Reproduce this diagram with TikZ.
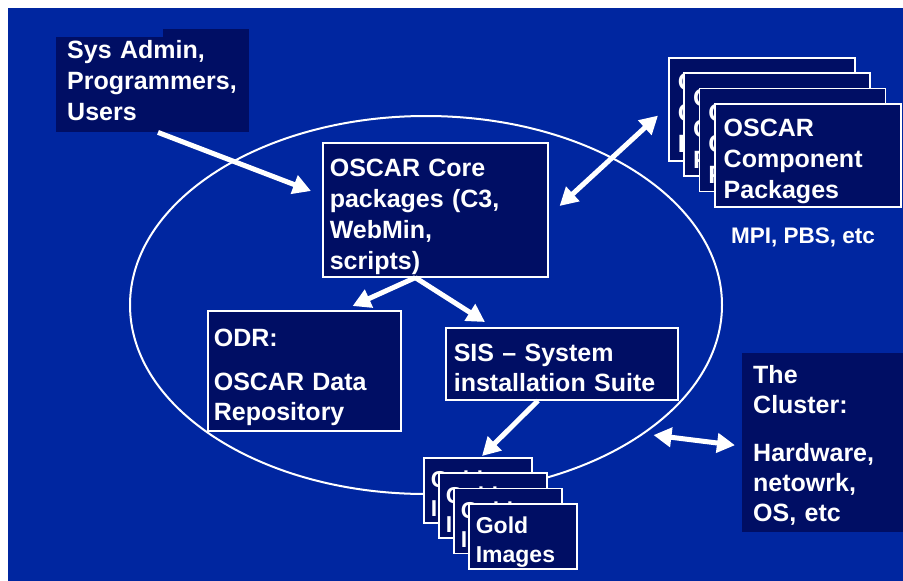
\documentclass[tikz,border=0pt]{standalone}
\usepackage{fontspec}
\setmainfont{Liberation Sans}
\usetikzlibrary{arrows.meta,shapes.geometric}
\hyphenpenalty=10000
\hbadness=10000
\hfuzz=100pt
\definecolor{oscarblue}{RGB}{0,38,160}
\definecolor{oscardark}{RGB}{0,14,100}
\tikzset{
  panel/.style={fill=oscardark, text=white, anchor=north west, inner ysep=0pt,
    align=left, font=\fontsize{25}{31}\selectfont\bfseries},
  framed/.style={panel, draw=white, line width=1.6pt},
  bigarrow/.style={draw=white, line width=5pt, -{Triangle[length=18pt,width=19pt]}},
  twoway/.style={bigarrow, {Triangle[length=18pt,width=19pt]}-{Triangle[length=18pt,width=19pt]}},
}
\begin{document}
\begin{tikzpicture}[x=1pt,y=-1pt]
    %% background
    \useasboundingbox (0,0) rectangle (903,581);
    \fill[white] (0,0) rectangle (903,581);
    \fill[oscarblue] (8,8) rectangle (903,581);
    %% the big ellipse
    \node[draw=white, line width=2pt, ellipse, inner sep=0pt, minimum width=592, minimum height=378] (orbit) at (426,305) {};
    %% users
    \fill[oscardark] (163,29) rectangle (249,37);
    \node[panel, inner xsep=11pt, text width=171pt, text height=21pt, text depth=74pt] (sys) at (56,37) {Sys Admin,\\Programmers,\\Users};
    %% core packages
    \node[framed, inner xsep=7pt, text width=211pt, text height=34pt, text depth=100pt] (core) at (322,142) {OSCAR Core\\packages (C3,\\WebMin,\\scripts)};
    %% data repository
    \node[framed, inner xsep=6pt, text width=181pt, text height=36pt, text depth=84pt, font=\fontsize{25}{30}\selectfont\bfseries] (odr) at (207,310) {ODR:\\[14pt]OSCAR Data\\Repository};
    %% installation suite
    \node[framed, inner xsep=8pt, text width=216pt, text height=34pt, text depth=38pt, font=\fontsize{25}{30}\selectfont\bfseries] (sis) at (445,327) {SIS -- System\\installation Suite};
    %% component packages, back to front
    \foreach \i in {1,...,4}
        \node[framed, inner xsep=9pt, text width=168pt, text height=33pt, text depth=70pt] (comp\i) at ({668+15.3*(\i-1)},{57+15.3*(\i-1)}) {OSCAR\\Component\\Packages};
    \node[anchor=base west, text=white, inner sep=0pt, font=\fontsize{22.5}{26}\selectfont\bfseries] (mpi) at (731,243) {MPI, PBS, etc};
    %% gold images, back to front
    \foreach \i in {1,...,4}
        \node[framed, inner xsep=7pt, text width=94pt, text height=30pt, text depth=35pt, font=\fontsize{23}{29}\selectfont\bfseries] (gold\i) at ({423+15*(\i-1)},{457+15.3*(\i-1)}) {Gold\\Images};
    %% the cluster
    \node[panel, inner xsep=11pt, text width=139pt, text height=30pt, text depth=149pt, font=\fontsize{25}{30}\selectfont\bfseries] (cluster) at (742,353) {The\\Cluster:\\[18pt]Hardware,\\netowrk,\\OS, etc};
    %% arrows
    \draw[bigarrow] ([xshift=102pt]sys.south west) -- ([xshift=-11pt,yshift=-49pt]core.north west);
    \draw[twoway] ([xshift=11pt,yshift=-64pt]core.north east) -- ([xshift=-10pt,yshift=46pt]comp1.south west);
    \draw[bigarrow] ([xshift=-20pt]core.south) -- ([xshift=-49pt,yshift=4pt]odr.north east);
    \draw[bigarrow] ([xshift=-20pt]core.south) -- ([xshift=40pt,yshift=5pt]sis.north west);
    \draw[bigarrow] ([xshift=93pt]sis.south west) -- ([xshift=59pt,yshift=1pt]gold1.north west);
    \draw[twoway] ([xshift=11pt]orbit.-31.4) -- ([xshift=-7pt,yshift=-2.5pt]cluster.west);
\end{tikzpicture}
\end{document}
